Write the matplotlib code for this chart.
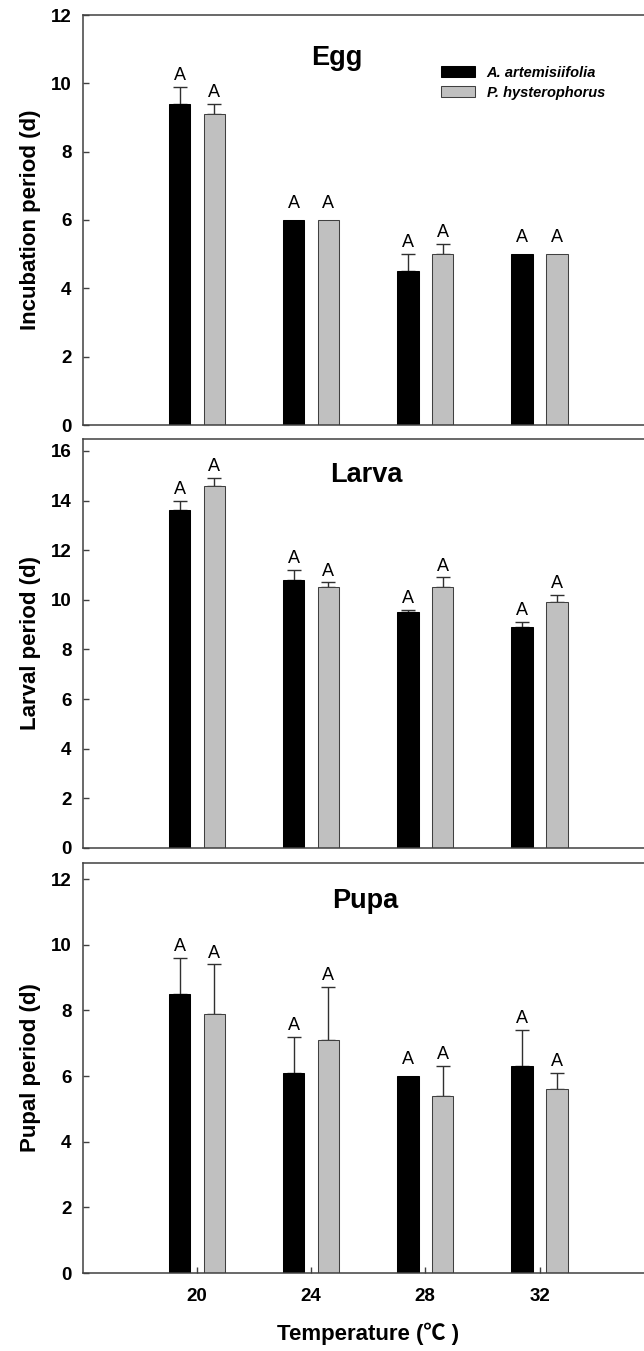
import matplotlib
matplotlib.use('Agg')
import matplotlib.pyplot as plt
import numpy as np

plt.rcParams['font.family'] = ['Liberation Sans', 'DejaVu Sans']

temps = ['20', '24', '28', '32']
species = ['A. artemisiifolia', 'P. hysterophorus']

# development time (d), mean and SE
egg_aa = [9.4, 6.0, 4.5, 5.0]
egg_aa_se = [0.5, 0.0, 0.5, 0.0]
egg_ph = [9.1, 6.0, 5.0, 5.0]
egg_ph_se = [0.3, 0.0, 0.3, 0.0]

larva_aa = [13.6, 10.8, 9.5, 8.9]
larva_aa_se = [0.4, 0.4, 0.1, 0.2]
larva_ph = [14.6, 10.5, 10.5, 9.9]
larva_ph_se = [0.3, 0.2, 0.4, 0.3]

pupa_aa = [8.5, 6.1, 6.0, 6.3]
pupa_aa_se = [1.1, 1.1, 0.0, 1.1]
pupa_ph = [7.9, 7.1, 5.4, 5.6]
pupa_ph_se = [1.5, 1.6, 0.9, 0.5]

letters = ['A', 'A', 'A', 'A']

W, H = 644, 1351
fig = plt.figure(figsize=(W / 100, H / 100), dpi=100)

# (top px, bottom px, title, ylabel, ymax, ticks, title pos)
panels = [
    (15, 425, 'Egg', 'Incubation period (d)', 12, np.arange(0, 13, 2), (1.224, 10.54),
     egg_aa, egg_aa_se, egg_ph, egg_ph_se),
    (439, 848, 'Larva', 'Larval period (d)', 16.48, np.arange(0, 17, 2), (1.487, 14.75),
     larva_aa, larva_aa_se, larva_ph, larva_ph_se),
    (862.7, 1273, 'Pupa', 'Pupal period (d)', 12.5, np.arange(0, 13, 2), (1.47, 11.12),
     pupa_aa, pupa_aa_se, pupa_ph, pupa_ph_se),
]

x = np.arange(len(temps))
off = 0.152
bw = 0.187
spc = '#404040'

for i, (top, bot, title, ylab, ymax, yt, tpos, aa, aa_se, ph, ph_se) in enumerate(panels):
    ax = fig.add_axes([82.7 / W, 1 - bot / H, 571 / W, (bot - top) / H])
    ax.bar(x - off, aa, bw, color='black', edgecolor='black', lw=0.75, label=species[0], zorder=2)
    ax.bar(x + off, ph, bw, color='#c0c0c0', edgecolor=spc, lw=0.75, label=species[1], zorder=2)

    for xs, v, e in [(x - off, aa, aa_se), (x + off, ph, ph_se)]:
        v = np.array(v)
        e = np.array(e)
        m = e > 0
        ax.errorbar(xs[m], v[m], yerr=[np.zeros(m.sum()), e[m]], fmt='none',
                    ecolor='#303030', elinewidth=1.0, capsize=4.7, capthick=1.0, zorder=1)
        for xi, vi, ei, lt in zip(xs, v, e, letters):
            ax.annotate(lt, (xi, vi + ei), xytext=(0, 5 if ei > 0 else 8.5),
                        textcoords='offset points', ha='center', va='baseline', fontsize=13)

    ax.set_xlim(-1, 4)
    ax.set_ylim(0, ymax)
    ax.set_yticks(yt, [str(t) for t in yt], fontweight='bold')
    ax.tick_params(axis='y', direction='in', length=4.3, width=1, pad=8, labelsize=13.5, color=spc)
    if i == 2:
        ax.set_xticks(x, temps, fontweight='bold')
        ax.tick_params(axis='x', direction='in', length=4.3, width=1, pad=11, labelsize=13.5, color=spc)
        ax.set_xlabel('Temperature (℃ )', fontsize=16, fontweight='bold',
                      family=['Liberation Sans', 'Noto Sans CJK SC'])
        ax.xaxis.set_label_coords(0.5, -0.122)
    else:
        ax.set_xticks([])
    for s in ax.spines.values():
        s.set_color(spc)
        s.set_linewidth(1.1)

    ax.set_ylabel(ylab, fontsize=16, fontweight='bold')
    ax.yaxis.set_label_coords(-0.073, 0.5)
    ax.text(tpos[0], tpos[1], title, ha='center', va='baseline', fontsize=19.5, fontweight='bold')

    if i == 0:
        ax.legend(loc='upper left', bbox_to_anchor=(0.6275, 0.876), frameon=False,
                  prop={'style': 'italic', 'weight': 'bold', 'size': 10.5},
                  handlelength=2.33, handleheight=0.75, handletextpad=0.8,
                  borderpad=0, borderaxespad=0, labelspacing=0.4)

fig.savefig('out.png', dpi=100)
